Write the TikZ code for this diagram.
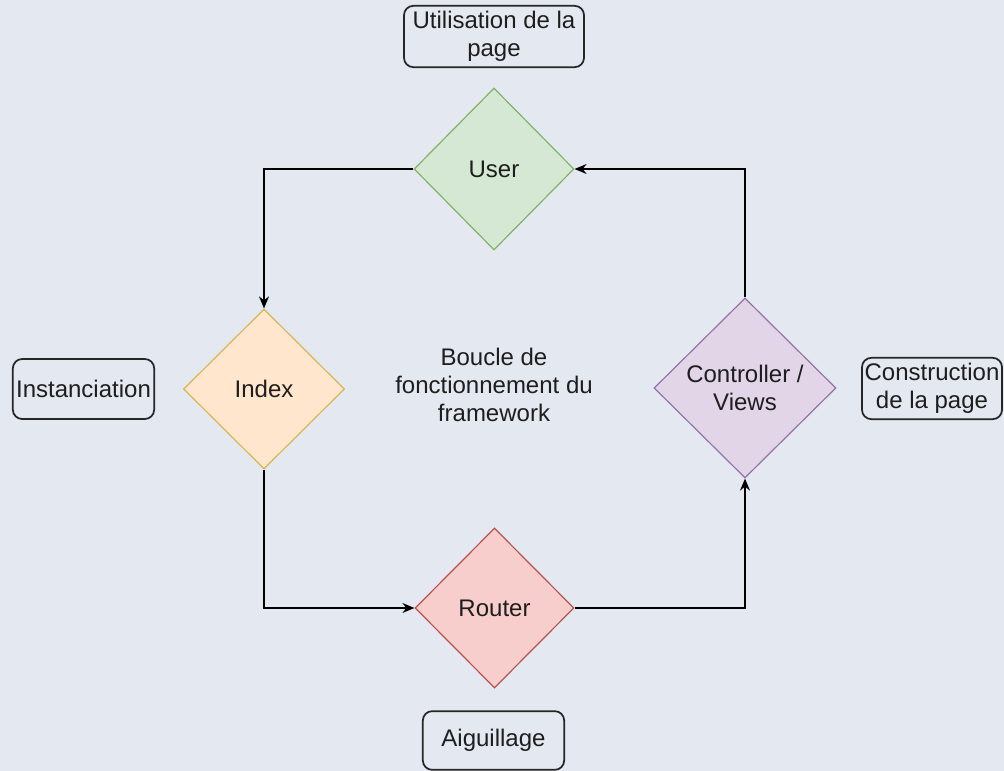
\documentclass[tikz,border=0pt]{standalone}
\usepackage{fontspec}
\setmainfont{Liberation Sans}
\usetikzlibrary{shapes.geometric,arrows.meta}

\definecolor{bgcol}{HTML}{E4E8F1}
\definecolor{txtcol}{HTML}{1E1E1E}
\definecolor{greenfill}{HTML}{D5E8D4}
\definecolor{greenline}{HTML}{82B366}
\definecolor{orangefill}{HTML}{FFE6CC}
\definecolor{orangeline}{HTML}{D6B656}
\definecolor{redfill}{HTML}{F8CECC}
\definecolor{redline}{HTML}{B85450}
\definecolor{purplefill}{HTML}{E1D5E7}
\definecolor{purpleline}{HTML}{9673A6}

\tikzset{
  decision/.style={diamond, aspect=1, inner sep=0pt, align=center, text=txtcol, line width=0.9pt},
  note/.style={draw=black!85, rounded corners=7pt, line width=1.3pt, inner sep=0pt, align=center, text=txtcol},
  flow/.style={-{Stealth[length=9pt,width=7.5pt]}, line width=1.1pt, black}
}

\begin{document}
\begin{tikzpicture}[x=0.75pt,y=-0.75pt,font=\fontsize{18}{21}\selectfont]
      \fill [bgcol] (0,0) rectangle (1004,771);
      \useasboundingbox (0,0) rectangle (1004,771);
      % the four steps of the loop
      \node [decision, fill=greenfill, draw=greenline, minimum width=120pt, minimum height=121.5pt] (user) at (494,169) {User};
      \node [decision, fill=orangefill, draw=orangeline, minimum width=120.75pt, minimum height=120pt] (index) at (264,389) {Index};
      \node [decision, fill=redfill, draw=redline, minimum width=119.25pt, minimum height=120pt] (router) at (494.5,608) {Router};
      \node [decision, fill=purplefill, draw=purpleline, minimum width=136.5pt, minimum height=135pt] (ctrl) at (745,388) {Controller /\\Views};
      \node [align=center, text=txtcol] (loop) at (494,385) {Boucle de\\fonctionnement du\\framework};
      % notes
      \node [note, minimum width=135pt, minimum height=46pt] (usage) at (494,36.5) {Utilisation de la\\page};
      \node [note, minimum width=106pt, minimum height=45pt] (inst) at (83.5,389) {Instanciation};
      \node [note, minimum width=105pt, minimum height=46pt] (build) at (932,388.5) {Construction\\de la page};
      \node [note, minimum width=106pt, minimum height=44pt] (switch) at (493.5,740.5) {Aiguillage};
      % arrows
      \draw [flow] (user.west) -| (index.north);
      \draw [flow] (index.south) |- (router.west);
      \draw [flow] (router.east) -| (ctrl.south);
      \draw [flow] (ctrl.north) |- (user.east);
\end{tikzpicture}
\end{document}
